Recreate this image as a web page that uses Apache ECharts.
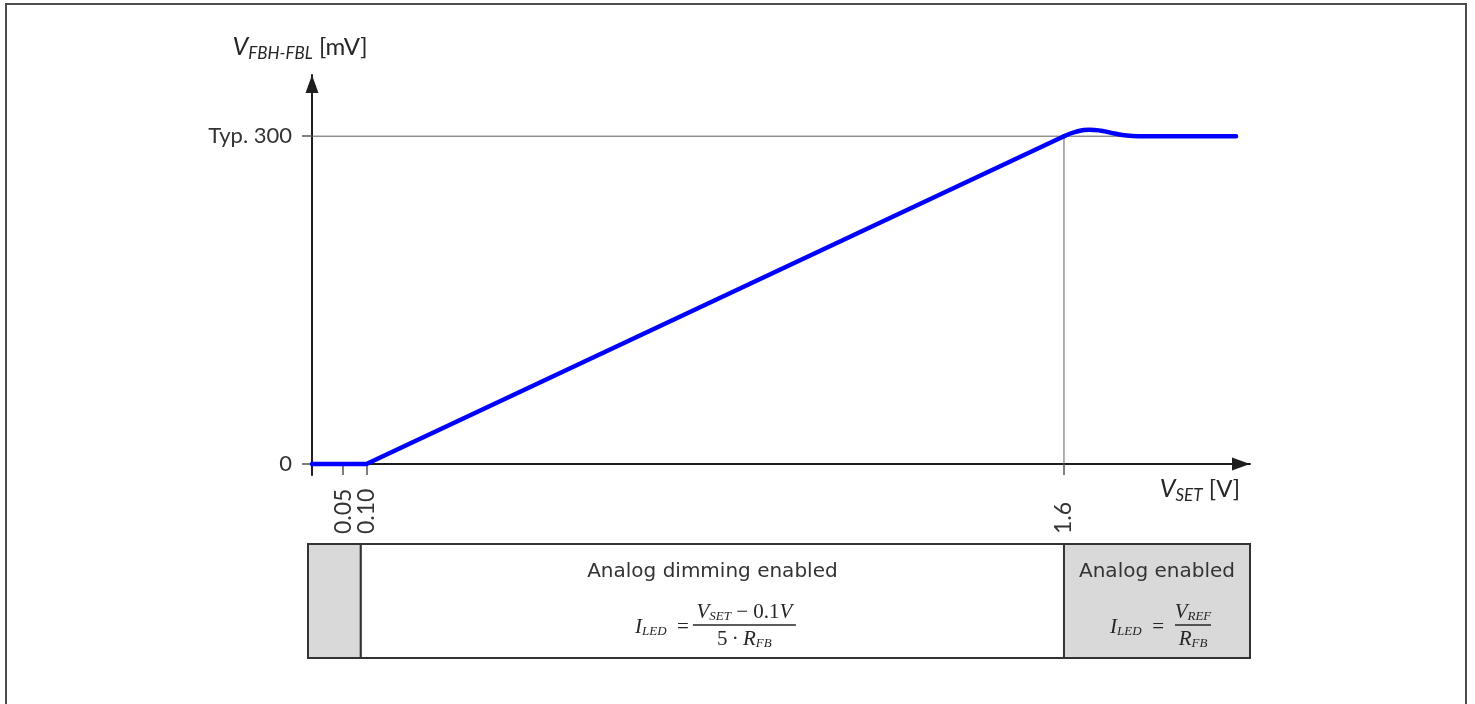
<!DOCTYPE html>
<html>
<head>
<meta charset="utf-8">
<title>V_FBH-FBL vs V_SET</title>
<script src="https://cdn.jsdelivr.net/npm/echarts@6/dist/echarts.min.js"></script>
<style>
  html, body { margin: 0; padding: 0; background: #ffffff; }
  #chart { width: 1475px; height: 704px; }
</style>
</head>
<body>
<div id="chart"></div>
<script>
// ---- data ----
// Axis ranges (V on x, mV on y)
const xRange = [-0.017, 2.0];
const yRange = [-10, 356];

// Tick positions and their printed labels
const xTickValues = [0.05, 0.10, 1.6];
const xTickLabels = ['0.05', '0.10', '1.6'];
const yTickValues = [0, 300];
const yTickLabels = ['0', 'Typ. 300'];

// Feedback voltage: held at 0 up to 0.10 V, linear ramp to the typical 300 mV at 1.6 V
const rampPoints = [[-0.017, 0], [0.10, 0], [1.6, 300]];
// Small overshoot above 1.6 V, then settling at 300 mV
const settlePoints = [[1.6, 300], [1.625, 304], [1.654, 306], [1.68, 305], [1.708, 302.5], [1.735, 300.6], [1.76, 300], [1.97, 300]];

// Guide lines at the typical value and at the 1.6 V threshold
const guideTyp = [[-0.017, 300], [1.97, 300]];
const guideThreshold = [[1.6, 300], [1.6, 0]];

// Operating regions shown in the strip under the plot (edges in V)
const regionEdges = [-0.0256, 0.088, 1.6, 2.0];
const regionTitles = ['', 'Analog dimming enabled', 'Analog enabled'];
const regionLhs = ['', '{v|I}{s|LED}{o|\u2002=}', '{v|I}{s|LED}{o|\u2002=}'];
const regionNumerators = ['', '{v|V}{s|SET}{o| \u2212 0.1}{v|V}', '{v|V}{s|REF}'];
const regionDenominators = ['', '{o|5\u2009\u00b7\u2009}{v|R}{s|FB}', '{v|R}{s|FB}'];

// ---- styling / layout ----
const INK = '#262626';
const cellFill = ['#d9d9d9', '#ffffff', '#d9d9d9'];
const fracLayout = [null, { left: -19.5, width: 103, gap: 4 }, { left: 18, width: 36, gap: 11 }];

const regionRows = [];
for (let i = 0; i < regionEdges.length - 1; i++) {
  regionRows.push([regionEdges[i], regionEdges[i + 1], i]);
}

const nameRich = {
  v: { fontFamily: 'Lato', fontStyle: 'italic', fontSize: 25, lineHeight: 30, color: INK },
  s: { fontFamily: 'Lato', fontStyle: 'italic', fontSize: 17, lineHeight: 17, verticalAlign: 'bottom', color: INK },
  u: { fontFamily: 'Lato', fontSize: 24, lineHeight: 30, color: INK }
};

const formulaRich = {
  v: { fontFamily: 'Liberation Serif', fontStyle: 'italic', fontSize: 21, lineHeight: 22, fill: INK },
  s: { fontFamily: 'Liberation Serif', fontStyle: 'italic', fontSize: 13, lineHeight: 13, verticalAlign: 'bottom', fill: INK },
  o: { fontFamily: 'Liberation Serif', fontSize: 21, lineHeight: 22, fill: INK }
};

function labelFor(values, labels) {
  return function (v) {
    const i = values.findIndex(t => Math.abs(t - v) < 1e-9);
    return i >= 0 ? labels[i] : '';
  };
}

function renderRegion(params, api) {
  const i = api.value(2);
  const a = api.coord([api.value(0), 1]);
  const b = api.coord([api.value(1), 0]);
  const x = a[0], y = a[1], w = b[0] - a[0], h = b[1] - a[1];
  const cx = x + w / 2;
  const children = [{
    type: 'rect',
    shape: { x: x, y: y, width: w, height: h },
    style: { fill: cellFill[i], stroke: '#333333', lineWidth: 2 }
  }];
  if (regionTitles[i]) {
    children.push({
      type: 'text',
      style: {
        text: regionTitles[i], x: cx, y: y + 28, align: 'center', verticalAlign: 'middle',
        fontFamily: 'DejaVu Sans', fontSize: 20, fill: '#333333'
      }
    });
  }
  if (regionNumerators[i]) {
    const f = fracLayout[i];
    const fl = cx + f.left;
    const ly = y + 81;
    children.push({
      type: 'line',
      shape: { x1: fl, y1: ly, x2: fl + f.width, y2: ly },
      style: { stroke: INK, lineWidth: 1.4 }
    });
    children.push({
      type: 'text',
      style: { text: regionNumerators[i], rich: formulaRich, x: fl + f.width / 2, y: ly - 2, align: 'center', verticalAlign: 'bottom', fill: INK }
    });
    children.push({
      type: 'text',
      style: { text: regionDenominators[i], rich: formulaRich, x: fl + f.width / 2, y: ly + 3, align: 'center', verticalAlign: 'top', fill: INK }
    });
    children.push({
      type: 'text',
      style: { text: regionLhs[i], rich: formulaRich, x: fl - f.gap, y: ly + 2, align: 'right', verticalAlign: 'middle', fill: INK }
    });
  }
  return { type: 'group', children: children };
}

const chart = echarts.init(document.getElementById('chart'), null, { renderer: 'canvas' });

chart.setOption({
  animation: false,
  backgroundColor: '#ffffff',
  graphic: [{
    type: 'rect',
    silent: true,
    shape: { x: 6, y: 4, width: 1460, height: 760 },
    style: { fill: 'none', stroke: '#4d4d4d', lineWidth: 2 }
  }],
  grid: [
    { left: 312, top: 75, width: 938, height: 400, outerBoundsMode: 'none', containLabel: false },
    { left: 308, top: 544, width: 942, height: 114, outerBoundsMode: 'none', containLabel: false }
  ],
  xAxis: [{
    type: 'value',
    gridIndex: 0,
    min: xRange[0],
    max: xRange[1],
    axisLine: {
      show: true, onZero: true,
      lineStyle: { color: '#1e1e1e', width: 2 },
      symbol: ['none', 'triangle'], symbolSize: [13, 18], symbolOffset: [0, -9]
    },
    axisTick: { show: true, length: 11, customValues: xTickValues, lineStyle: { color: '#555555', width: 1.5 } },
    axisLabel: {
      customValues: xTickValues, rotate: 90, margin: 59, align: 'left', verticalAlign: 'middle',
      hideOverlap: false, showMinLabel: true, showMaxLabel: true,
      formatter: labelFor(xTickValues, xTickLabels),
      fontFamily: 'Lato', fontSize: 23, color: '#333333'
    },
    splitLine: { show: false },
    name: '{v|V}{s|SET}{u| [V]}',
    nameLocation: 'end',
    nameGap: -10,
    nameMoveOverlap: false,
    nameTextStyle: { align: 'right', verticalAlign: 'top', padding: [10, 0, 0, 0], rich: nameRich }
  }, {
    type: 'value', gridIndex: 1, min: regionEdges[0], max: regionEdges[regionEdges.length - 1], show: false
  }],
  yAxis: [{
    type: 'value',
    gridIndex: 0,
    min: yRange[0],
    max: yRange[1],
    axisLine: {
      show: true, onZero: false,
      lineStyle: { color: '#1e1e1e', width: 2 },
      symbol: ['none', 'triangle'], symbolSize: [13, 18], symbolOffset: [0, -9]
    },
    axisTick: { show: true, length: 10, customValues: yTickValues, lineStyle: { color: '#555555', width: 1.5 } },
    axisLabel: {
      customValues: yTickValues, margin: 20, showMinLabel: true, showMaxLabel: true,
      formatter: labelFor(yTickValues, yTickLabels),
      fontFamily: 'Lato', fontSize: 22, color: '#333333'
    },
    splitLine: { show: false },
    name: '{v|V}{s|FBH-FBL}{u| [mV]}',
    nameLocation: 'end',
    nameGap: 13,
    nameMoveOverlap: false,
    nameTextStyle: { align: 'center', verticalAlign: 'bottom', padding: [0, 24, 0, 0], rich: nameRich }
  }, {
    type: 'value', gridIndex: 1, min: 0, max: 1, show: false
  }],
  series: [
    {
      name: 'typ', type: 'line', xAxisIndex: 0, yAxisIndex: 0, data: guideTyp,
      showSymbol: false, silent: true, z: 1,
      lineStyle: { color: '#5f5f5f', width: 1 }
    },
    {
      name: 'threshold', type: 'line', xAxisIndex: 0, yAxisIndex: 0, data: guideThreshold,
      showSymbol: false, silent: true, z: 1,
      lineStyle: { color: '#5f5f5f', width: 1 }
    },
    {
      name: 'ramp', type: 'line', xAxisIndex: 0, yAxisIndex: 0, data: rampPoints,
      showSymbol: false, z: 3, clip: false,
      lineStyle: { color: '#0000ff', width: 4.5, cap: 'round', join: 'round' }
    },
    {
      name: 'settle', type: 'line', xAxisIndex: 0, yAxisIndex: 0, data: settlePoints,
      showSymbol: false, z: 3, smooth: 0.5, clip: false,
      lineStyle: { color: '#0000ff', width: 4.5, cap: 'round', join: 'round' }
    },
    {
      name: 'regions', type: 'custom', xAxisIndex: 1, yAxisIndex: 1,
      dimensions: ['from', 'to', 'idx'],
      encode: { x: ['from', 'to'] },
      data: regionRows, clip: false, silent: true,
      renderItem: renderRegion
    }
  ]
});
</script>
</body>
</html>
